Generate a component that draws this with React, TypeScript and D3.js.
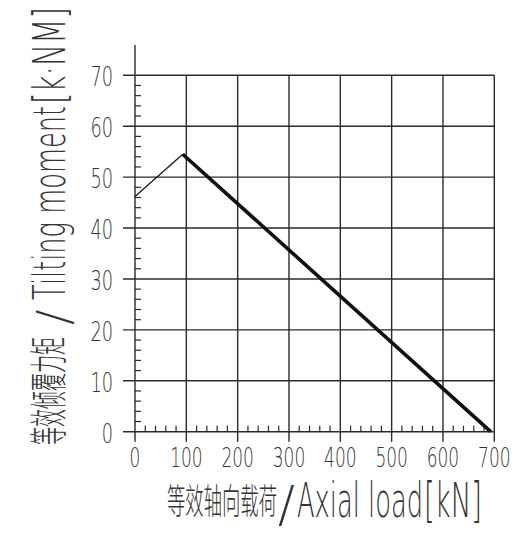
import React from "react";
import * as d3 from "d3";

// ---- data ----
const xTicks = [0, 100, 200, 300, 400, 500, 600, 700];
const yTicks = [0, 10, 20, 30, 40, 50, 60, 70];
const xMinor = d3.range(0, 701, 20).filter((v) => v % 100 !== 0);
const yMinor = d3.range(0, 71, 2).filter((v) => v % 10 !== 0);
const thinX = [0, 93];
const thinY = [46.2, 54.5];
const thickX = [93, 693];
const thickY = [54.5, 0];
const xTitleCn = "等效轴向载荷";
const xTitleEn = "Axial load";
const xTitleUnit = "[kN]";
const yTitleCn = "等效倾覆力矩";
const yTitleEn = "Tilting moment";
const yTitleUnit = "[k·NM]";

const W = 527;
const H = 543;
const x = d3.scaleLinear().domain([0, 700]).range([135, 494.3]);
const y = d3.scaleLinear().domain([0, 70]).range([431.7, 75.3]);

const line = d3
  .line<[number, number]>()
  .x((d) => x(d[0]))
  .y((d) => y(d[1]));

const thinPts: [number, number][] = thinX.map((v, i) => [v, thinY[i]]);
const thickPts: [number, number][] = thickX.map((v, i) => [v, thickY[i]]);

const GRID = "#2a2a2a";
const TXT = "#333";
const LATIN = "DejaVu Sans";
const CJK = "Noto Sans CJK SC";

export default function App() {
  const x0 = x(0);
  const y0 = y(0);
  return (
    <svg width={W} height={H} style={{ position: "absolute", left: 0, top: 0, background: "#fff" }}>
      <rect width={W} height={H} fill="#fff" />
      {/* horizontal grid */}
      {yTicks.map((t) => (
        <line key={"hy" + t} x1={x0 - 12} x2={x(700)} y1={y(t)} y2={y(t)} stroke={GRID} strokeWidth={1.4} />
      ))}
      {/* vertical grid */}
      {xTicks.map((t) => (
        <line
          key={"vx" + t}
          x1={x(t)}
          x2={x(t)}
          y1={t === 0 ? 45 : y(70)}
          y2={y0 + 10}
          stroke={GRID}
          strokeWidth={1.4}
        />
      ))}
      {/* minor ticks */}
      {yMinor.map((t) => (
        <line key={"my" + t} x1={x0} x2={x0 + 6} y1={y(t)} y2={y(t)} stroke={GRID} strokeWidth={1.2} />
      ))}
      {xMinor.map((t) => (
        <line key={"mx" + t} x1={x(t)} x2={x(t)} y1={y0} y2={y0 - 6} stroke={GRID} strokeWidth={1.2} />
      ))}
      {/* data */}
      <path d={line(thinPts) || ""} fill="none" stroke="#111" strokeWidth={1.2} />
      <path d={line(thickPts) || ""} fill="none" stroke="#111" strokeWidth={3.6} strokeLinecap="butt" />
      {/* y tick labels */}
      {yTicks.map((t) => (
        <text
          key={"yl" + t}
          x={113}
          y={y(t) + 11}
          textAnchor="end"
          fontFamily={LATIN}
          fontWeight={200}
          fontSize={26}
          fill={TXT}
          textLength={String(t).length * 11.3}
          lengthAdjust="spacingAndGlyphs"
        >
          {t}
        </text>
      ))}
      {/* x tick labels */}
      {xTicks.map((t) => (
        <text
          key={"xl" + t}
          x={x(t)}
          y={466.5}
          textAnchor="middle"
          fontFamily={LATIN}
          fontWeight={200}
          fontSize={27}
          fill={TXT}
          textLength={String(t).length * 10.8}
          lengthAdjust="spacingAndGlyphs"
        >
          {t}
        </text>
      ))}
      {/* x title */}
      <text x={167} y={514} fontFamily={CJK} fontWeight={300} fontSize={35} fill={TXT} textLength={110} lengthAdjust="spacingAndGlyphs">
        {xTitleCn}
      </text>
      <text x={278} y={521} fontFamily={LATIN} fontWeight={200} fontSize={50} fill={TXT}>
        /
      </text>
      <text x={297} y={517} fontFamily={LATIN} fontWeight={200} fontSize={48} fill={TXT} textLength={126} lengthAdjust="spacingAndGlyphs">
        {xTitleEn}
      </text>
      <text x={424} y={517} fontFamily={LATIN} fontWeight={200} fontSize={48} fill={TXT} textLength={58} lengthAdjust="spacingAndGlyphs">
        {xTitleUnit}
      </text>
      {/* y title */}
      <g transform="translate(62,445) rotate(-90)">
        <text x={0} y={0} fontFamily={CJK} fontWeight={300} fontSize={38} fill={TXT} textLength={108} lengthAdjust="spacingAndGlyphs">
          {yTitleCn}
        </text>
      </g>
      <g transform="translate(70,325) rotate(-90)">
        <text x={0} y={0} fontFamily={LATIN} fontWeight={200} fontSize={46} fill={TXT}>
          /
        </text>
      </g>
      <g transform="translate(65,300) rotate(-90)">
        <text x={0} y={0} fontFamily={LATIN} fontWeight={200} fontSize={44} fill={TXT} textLength={194} lengthAdjust="spacingAndGlyphs">
          {yTitleEn}
        </text>
      </g>
      <g transform="translate(65,104) rotate(-90)">
        <text x={0} y={0} fontFamily={LATIN} fontWeight={200} fontSize={44} fill={TXT} textLength={97} lengthAdjust="spacingAndGlyphs">
          {yTitleUnit}
        </text>
      </g>
    </svg>
  );
}
